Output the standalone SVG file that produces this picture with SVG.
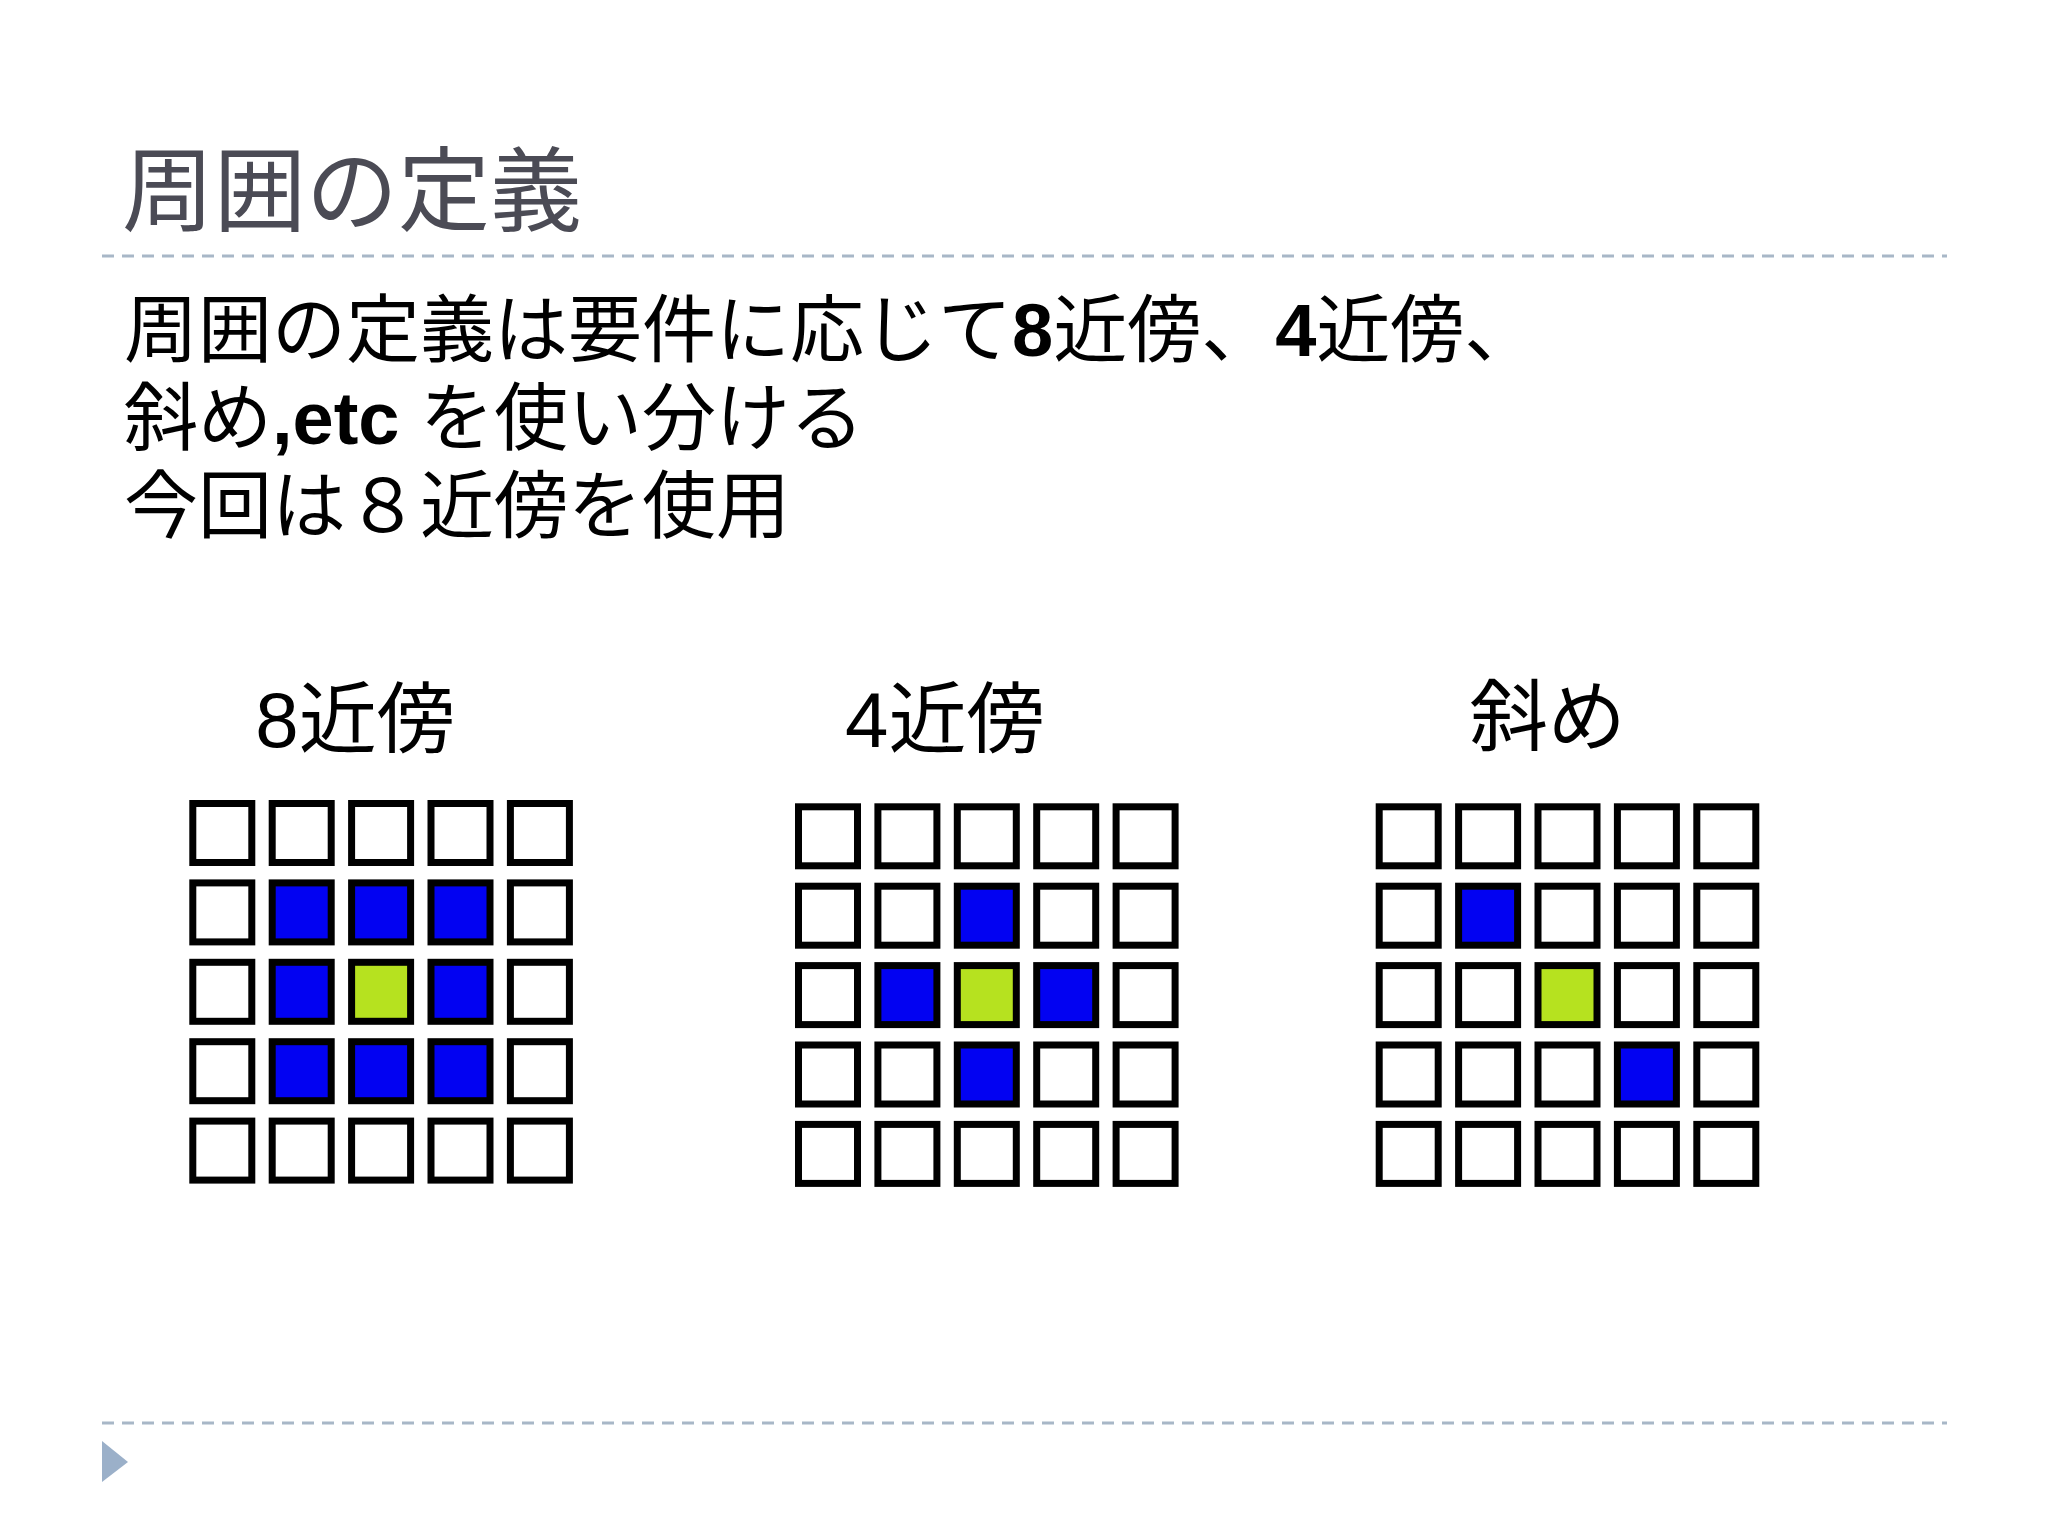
<svg xmlns="http://www.w3.org/2000/svg" width="2048" height="1536" viewBox="0 0 2048 1536">
<style>
.bg{fill:#ffffff}
.rule{stroke:#a8b7c7;stroke-width:3;stroke-dasharray:12 8;fill:none}
.title{font-family:"Noto Sans CJK JP","Liberation Serif",serif;font-size:92px;fill:#4b4b55}
.body{font-family:"Liberation Sans","Noto Sans CJK JP",sans-serif;font-size:74px;fill:#000}
.lat{font-weight:bold}
.lbl{font-family:"Noto Sans CJK JP","Liberation Sans",sans-serif;font-size:78px;fill:#000}
.lblnum{font-family:"Liberation Sans","Noto Sans CJK JP",sans-serif}
.c{stroke:#000;stroke-width:7;fill:#ffffff}
.b{stroke:#000;stroke-width:7;fill:#0202f2}
.g{stroke:#000;stroke-width:7;fill:#b6e21f}
</style>
<defs>
<rect id="cell" width="59" height="59"/>
</defs>
<rect class="bg" x="0" y="0" width="2048" height="1536"/>

<g id="header">
<text class="title" x="122" y="224">周囲の定義</text>
<line class="rule" x1="102" y1="256" x2="1947" y2="256"/>
</g>

<g id="body-text">
<text class="body" x="124" y="356">周囲の定義は要件に応じて<tspan class="lat">8</tspan>近傍、<tspan class="lat">4</tspan>近傍、</text>
<text class="body" x="124" y="444">斜め<tspan class="lat">,etc </tspan>を使い分ける</text>
<text class="body" x="124" y="532">今回は８近傍を使用</text>
</g>

<g id="grid-8" transform="translate(189.3,800)">
<text class="lbl" x="66" y="-53"><tspan class="lblnum">8</tspan>近傍</text>
<use href="#cell" class="c" x="3.5" y="3.5"/><use href="#cell" class="c" x="82.9" y="3.5"/><use href="#cell" class="c" x="162.3" y="3.5"/><use href="#cell" class="c" x="241.7" y="3.5"/><use href="#cell" class="c" x="321.1" y="3.5"/>
<use href="#cell" class="c" x="3.5" y="82.9"/><use href="#cell" class="b" x="82.9" y="82.9"/><use href="#cell" class="b" x="162.3" y="82.9"/><use href="#cell" class="b" x="241.7" y="82.9"/><use href="#cell" class="c" x="321.1" y="82.9"/>
<use href="#cell" class="c" x="3.5" y="162.3"/><use href="#cell" class="b" x="82.9" y="162.3"/><use href="#cell" class="g" x="162.3" y="162.3"/><use href="#cell" class="b" x="241.7" y="162.3"/><use href="#cell" class="c" x="321.1" y="162.3"/>
<use href="#cell" class="c" x="3.5" y="241.7"/><use href="#cell" class="b" x="82.9" y="241.7"/><use href="#cell" class="b" x="162.3" y="241.7"/><use href="#cell" class="b" x="241.7" y="241.7"/><use href="#cell" class="c" x="321.1" y="241.7"/>
<use href="#cell" class="c" x="3.5" y="321.1"/><use href="#cell" class="c" x="82.9" y="321.1"/><use href="#cell" class="c" x="162.3" y="321.1"/><use href="#cell" class="c" x="241.7" y="321.1"/><use href="#cell" class="c" x="321.1" y="321.1"/>
</g>

<g id="grid-4" transform="translate(795,803.3)">
<text class="lbl" x="50" y="-56"><tspan class="lblnum">4</tspan>近傍</text>
<use href="#cell" class="c" x="3.5" y="3.5"/><use href="#cell" class="c" x="82.9" y="3.5"/><use href="#cell" class="c" x="162.3" y="3.5"/><use href="#cell" class="c" x="241.7" y="3.5"/><use href="#cell" class="c" x="321.1" y="3.5"/>
<use href="#cell" class="c" x="3.5" y="82.9"/><use href="#cell" class="c" x="82.9" y="82.9"/><use href="#cell" class="b" x="162.3" y="82.9"/><use href="#cell" class="c" x="241.7" y="82.9"/><use href="#cell" class="c" x="321.1" y="82.9"/>
<use href="#cell" class="c" x="3.5" y="162.3"/><use href="#cell" class="b" x="82.9" y="162.3"/><use href="#cell" class="g" x="162.3" y="162.3"/><use href="#cell" class="b" x="241.7" y="162.3"/><use href="#cell" class="c" x="321.1" y="162.3"/>
<use href="#cell" class="c" x="3.5" y="241.7"/><use href="#cell" class="c" x="82.9" y="241.7"/><use href="#cell" class="b" x="162.3" y="241.7"/><use href="#cell" class="c" x="241.7" y="241.7"/><use href="#cell" class="c" x="321.1" y="241.7"/>
<use href="#cell" class="c" x="3.5" y="321.1"/><use href="#cell" class="c" x="82.9" y="321.1"/><use href="#cell" class="c" x="162.3" y="321.1"/><use href="#cell" class="c" x="241.7" y="321.1"/><use href="#cell" class="c" x="321.1" y="321.1"/>
</g>

<g id="grid-diag" transform="translate(1375.7,803.3)">
<text class="lbl" x="94" y="-58">斜め</text>
<use href="#cell" class="c" x="3.5" y="3.5"/><use href="#cell" class="c" x="82.9" y="3.5"/><use href="#cell" class="c" x="162.3" y="3.5"/><use href="#cell" class="c" x="241.7" y="3.5"/><use href="#cell" class="c" x="321.1" y="3.5"/>
<use href="#cell" class="c" x="3.5" y="82.9"/><use href="#cell" class="b" x="82.9" y="82.9"/><use href="#cell" class="c" x="162.3" y="82.9"/><use href="#cell" class="c" x="241.7" y="82.9"/><use href="#cell" class="c" x="321.1" y="82.9"/>
<use href="#cell" class="c" x="3.5" y="162.3"/><use href="#cell" class="c" x="82.9" y="162.3"/><use href="#cell" class="g" x="162.3" y="162.3"/><use href="#cell" class="c" x="241.7" y="162.3"/><use href="#cell" class="c" x="321.1" y="162.3"/>
<use href="#cell" class="c" x="3.5" y="241.7"/><use href="#cell" class="c" x="82.9" y="241.7"/><use href="#cell" class="c" x="162.3" y="241.7"/><use href="#cell" class="b" x="241.7" y="241.7"/><use href="#cell" class="c" x="321.1" y="241.7"/>
<use href="#cell" class="c" x="3.5" y="321.1"/><use href="#cell" class="c" x="82.9" y="321.1"/><use href="#cell" class="c" x="162.3" y="321.1"/><use href="#cell" class="c" x="241.7" y="321.1"/><use href="#cell" class="c" x="321.1" y="321.1"/>
</g>

<g id="connectors"></g>

<g id="footer">
<line class="rule" x1="102" y1="1423" x2="1947" y2="1423"/>
<polygon points="102,1441 128,1462 102,1482" fill="#9bb0c9"/>
</g>
</svg>
